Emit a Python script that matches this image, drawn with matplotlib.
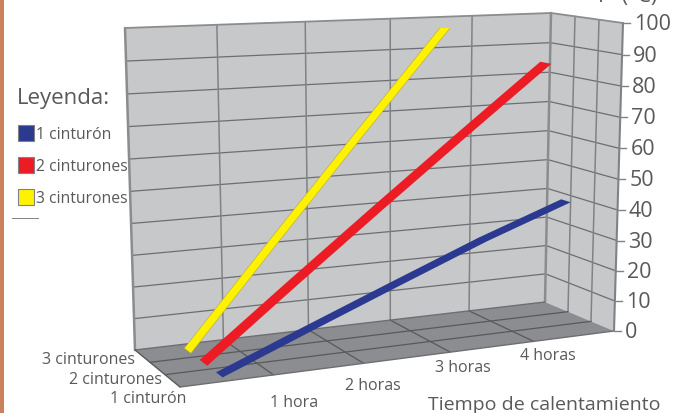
import numpy as np
import matplotlib
matplotlib.use("Agg")
import matplotlib.pyplot as plt
from matplotlib.patches import Polygon, Rectangle

W, H = 682, 414

horas = ["1 hora", "2 horas", "3 horas", "4 horas"]
series = ["1 cinturón", "2 cinturones", "3 cinturones"]
temp_ticks = [0, 10, 20, 30, 40, 50, 60, 70, 80, 90, 100]

# grados por hora de calentamiento
t_1 = [0, 11, 22, 33, 43]
t_2 = [0, 21.5, 43, 64.5, 86]
t_3 = [0, 32, 64, 96, 128]

col_1 = "#2b3990"
col_2 = "#ed1c24"
col_3 = "#fff200"
gris_txt = "#58595b"

plt.rcParams["font.family"] = ["Open Sans", "DejaVu Sans"]

fig = plt.figure(figsize=(W / 100, H / 100), dpi=100)
ax = fig.add_axes([0, 0, 1, 1])
ax.set_xlim(0, W)
ax.set_ylim(H, 0)
ax.axis("off")

# esquinas de la caja 3d en pixeles: (x, prof, z)
caja = {
    (0, 0, 0): (180, 388), (1, 0, 0): (614, 332),
    (0, 1, 0): (135, 351), (1, 1, 0): (545, 303),
    (0, 0, 1): (170, 40), (1, 0, 1): (623, 24),
    (0, 1, 1): (125, 29), (1, 1, 1): (551, 14),
}
KX, KZ = 1.1, 1.03


def proy(x, d, z):
    # perspectiva suave en x y z, luego interpolacion trilineal
    x = KX * x / (1 + (KX - 1) * x)
    z = z / (KZ - (KZ - 1) * z)
    p = np.zeros(2)
    for (i, j, k), c in caja.items():
        w = (x if i else 1 - x) * (d if j else 1 - d) * (z if k else 1 - z)
        p += w * np.array(c)
    return p


def cara(puntos, **kw):
    ax.add_patch(Polygon([proy(*q) for q in puntos], closed=True, **kw))


def linea(a, b, c="#6d6e71", lw=0.9, zo=3):
    pa, pb = proy(*a), proy(*b)
    ax.plot([pa[0], pb[0]], [pa[1], pb[1]], color=c, lw=lw, zorder=zo, solid_capstyle="round")


muro = "#c7c8ca"
suelo = "#8c8d90"
cara([(0, 1, 0), (1, 1, 0), (1, 1, 1), (0, 1, 1)], fc=muro, ec="none", zorder=1)
cara([(1, 1, 0), (1, 0, 0), (1, 0, 1), (1, 1, 1)], fc=muro, ec="none", zorder=1)
cara([(0, 0, 0), (1, 0, 0), (1, 1, 0), (0, 1, 0)], fc=suelo, ec="none", zorder=2)

for t in temp_ticks[1:-1]:
    z = t / 100
    linea((0, 1, z), (1, 1, z))
    linea((1, 1, z), (1, 0, z))
for i in range(1, 5):
    x = i / 5
    linea((x, 1, 0), (x, 1, 1), c="#808285", lw=1.1)
    linea((x, 1, 0), (x, 0, 0), c="#58595b")
for j in (1 / 3, 2 / 3):
    linea((1, j, 0), (1, j, 1), c="#808285", lw=1.1)
    linea((0, j, 0), (1, j, 0), c="#58595b")

# bordes gruesos de la caja
borde = "#8a8c8e"
linea((0, 1, 0), (0, 1, 1), c=borde, lw=1.8)
linea((0, 1, 1), (1, 1, 1), c=borde, lw=1.3)
linea((1, 1, 1), (1, 0, 1), c=borde, lw=1.3)
linea((1, 1, 0), (1, 1, 1), c=borde, lw=1.8)
linea((1, 0, 0), (1, 0, 1), c="#808285", lw=1.5, zo=4)
linea((0, 1, 0), (1, 1, 0), c="#6d6e71", lw=1.0)
linea((0, 0, 0), (1, 0, 0), c="#6d6e71", lw=1.0)
linea((0, 0, 0), (0, 1, 0), c="#58595b", lw=1.0)

# cintas de cada serie, de la mas lejana a la mas cercana
cintas = [(t_3, 5 / 6, col_3, 0.07), (t_2, 3 / 6, col_2, 0.08), (t_1, 1 / 6, col_1, 0.07)]
for orden, (vals, d, col, ancho) in enumerate(cintas):
    xs = [(i + 0.5) / 5 for i in range(len(vals))]
    borde_a = [proy(x, d + ancho, v / 100) for x, v in zip(xs, vals)]
    borde_b = [proy(x, d - ancho, v / 100) for x, v in zip(xs, vals)]
    cinta = Polygon(borde_a + borde_b[::-1], closed=True, fc=col, ec="none", zorder=5 + orden)
    ax.add_patch(cinta)
    # la cinta amarilla se corta arriba en horizontal
    if col == col_3:
        cinta.set_clip_path(Rectangle((0, 29), W, H, transform=ax.transData))
        cinta.set_edgecolor("#b5a642")
        cinta.set_linewidth(0.4)

# eje de temperatura
for t in temp_ticks:
    p = proy(1, 0, t / 100)
    ax.plot([p[0], p[0] + 7], [p[1], p[1]], color="#808285", lw=1.0, zorder=4)
    ax.text(p[0] + 11, p[1] + 0.5, str(t), fontsize=15.5, color=gris_txt, va="center", ha="left")

ax.text(595, 2, "T° (°C)", fontsize=15.5, color=gris_txt, va="baseline", ha="left")

for txt, px, py in zip(horas, [294, 373, 463, 548], [403, 386, 368, 356]):
    ax.text(px, py, txt, fontsize=11.5, color=gris_txt, ha="center", va="center")
for txt, px, py in zip(series, [186, 162, 135], [399, 380, 360]):
    ax.text(px, py, txt, fontsize=11.5, color=gris_txt, ha="right", va="center")
ax.text(428, 405, "Tiempo de calentamiento", fontsize=14, color=gris_txt, ha="left", va="center")

# leyenda
ax.text(17, 99, "Leyenda:", fontsize=16, color=gris_txt, ha="left", va="center")
for txt, col, py in zip(series, [col_1, col_2, col_3], [134, 166, 198]):
    ax.add_patch(Rectangle((17.5, py - 8.5), 16, 16, fc=col, ec="#808285", lw=0.8))
    ax.text(36, py + 1, txt, fontsize=11.3, color=gris_txt, ha="left", va="center")
ax.plot([12, 38], [219, 219], color="#808285", lw=0.7)

# franja lateral
ax.add_patch(Rectangle((0, 0), 4, H, fc="#c9825c", ec="none"))

fig.savefig("out.png", dpi=100)
